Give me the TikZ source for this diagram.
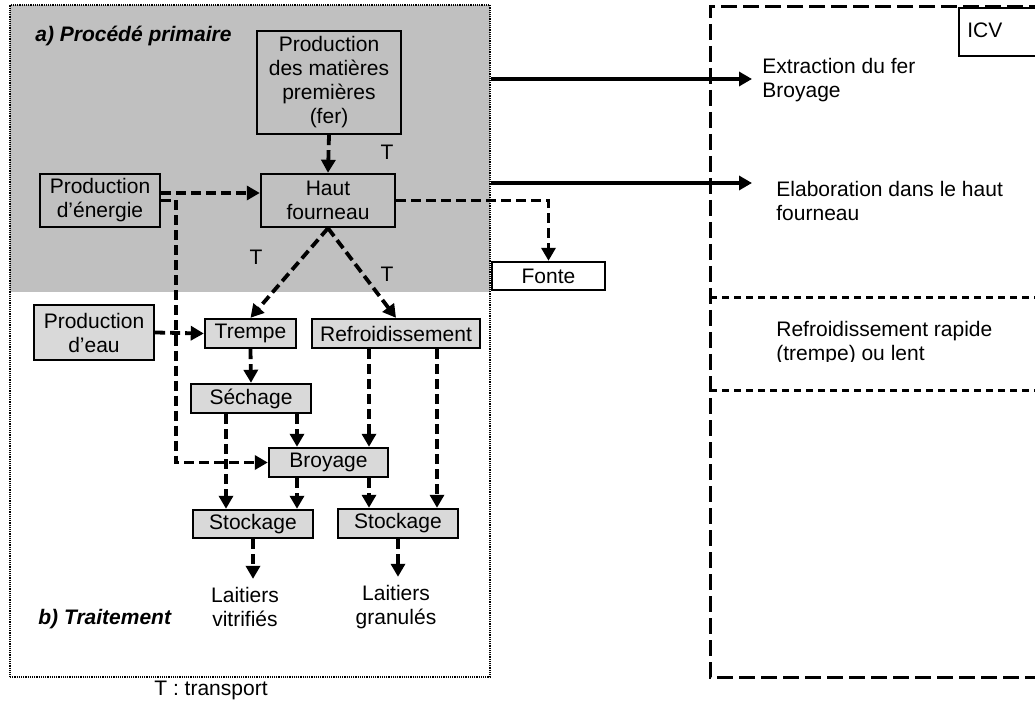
\documentclass[tikz,border=0pt]{standalone}
\usepackage{fontspec}
\setmainfont{Liberation Sans}
\usetikzlibrary{arrows.meta,calc}
\definecolor{bggray}{RGB}{192,192,192}
\definecolor{boxgray}{RGB}{217,217,217}
\begin{document}
\begin{tikzpicture}[x=0.5pt,y=-0.5pt,
  every node/.style={font=\fontsize{10.5pt}{12pt}\selectfont, inner sep=0pt},
  box/.style={draw, line width=1.2pt, align=center},
  upbox/.style={box, fill=bggray},
  lowbox/.style={box, fill=boxgray},
  flow/.style={line width=1.9pt, dash pattern=on 5pt off 2.5pt, -{Triangle[length=6.5pt,width=7pt]}},
  flowline/.style={line width=1.9pt, dash pattern=on 5pt off 2.5pt},
  solidarrow/.style={line width=1.8pt, -{Triangle[length=6.5pt,width=7pt]}},
  bigdash/.style={line width=1.5pt, dash pattern=on 8pt off 3pt},
  smalldash/.style={line width=1.5pt, dash pattern=on 3.5pt off 2.5pt},
  lbl/.style={align=center},
  sect/.style={font=\fontsize{10.5pt}{12pt}\selectfont\bfseries\itshape}
]
\useasboundingbox (0,0) rectangle (1035,701);
% primary process background
\fill[bggray] (10,5) rectangle (490,292);
\node[draw, line width=1pt, dash pattern=on 0.6pt off 0.5pt, minimum width=240pt, minimum height=336pt] (outer) at (250,341) {};

\node[sect, anchor=west] (secA) at (35,36) {a) Procédé primaire};
\node[sect, anchor=west] (secB) at (38,619) {b) Traitement};

% upper boxes
\node[upbox, minimum width=72pt, minimum height=51.5pt] (mp) at (329,82.5) {Production\\des matières\\premières\\(fer)};
\node[upbox, minimum width=67pt, minimum height=26.5pt] (hf) at (328,200.5) {Haut\\fourneau};
\node[upbox, minimum width=60pt, minimum height=26.5pt] (en) at (100,200.5) {Production\\d’énergie};
\node[box, fill=white, minimum width=56.5pt, minimum height=14pt] (fonte) at (548.5,276) {Fonte};

% lower boxes
\node[lowbox, minimum width=60pt, minimum height=27.5pt] (eau) at (94,332.5) {Production\\d’eau};
\node[lowbox, minimum width=45.5pt, minimum height=14.5pt] (trempe) at (250.5,333.5) {Trempe};
\node[lowbox, minimum width=84pt, minimum height=14.5pt] (refr) at (396,333.5) {Refroidissement};
\node[lowbox, minimum width=60pt, minimum height=14.5pt] (sech) at (251,398.5) {Séchage};
\node[lowbox, minimum width=59.5pt, minimum height=14.5pt] (broy) at (328.5,462.5) {Broyage};
\node[lowbox, minimum width=60pt, minimum height=14pt] (stk1) at (253,524) {Stockage};
\node[lowbox, minimum width=60pt, minimum height=14.5pt] (stk2) at (398,523.5) {Stockage};
\node[lbl] (lv) at (245,607) {Laitiers\\vitrifiés};
\node[lbl] (lg) at (396,607) {Laitiers\\granulés};

% T labels
\node (t1) at (387,152) {T};
\node (t2) at (256,257) {T};
\node (t3) at (387,274) {T};
\node (tt) at (211,690) {T : transport};

% flows upper
\draw[flow] (mp.south) -- (hf.north);
\draw[flow] ([yshift=3.75pt]en.east) -- ([yshift=3.75pt]en.east -| hf.west);
\draw[flowline] (en.east) -- ++(15,0) coordinate (enc);
\draw[flow] (enc) |- (broy.west);
\draw[flow] (hf.east) -| (fonte.north);
\draw[flow] (hf.south) -- (trempe.north);
\draw[flow] (hf.south) -- (refr.north);

% flows lower
\draw[flow] (eau.east) -- (trempe.west);
\draw[flow] (trempe.south) -- (sech.north);
\draw[flow] ([xshift=23pt]sech.south) -- ([xshift=23pt]sech.south |- broy.north);
\draw[flow] ([xshift=-12.5pt]sech.south) -- ([xshift=-12.5pt]sech.south |- stk1.north);
\draw[flow] ([xshift=-13.5pt]refr.south) -- ([xshift=-13.5pt]refr.south |- broy.north);
\draw[flow] ([xshift=20.5pt]refr.south) -- ([xshift=20.5pt]refr.south |- stk2.north);
\draw[flow] ([xshift=-15.75pt]broy.south) -- ([xshift=-15.75pt]broy.south |- stk1.north);
\draw[flow] ([xshift=20.25pt]broy.south) -- ([xshift=20.25pt]broy.south |- stk2.north);
\draw[flow] (stk1.south) -- ([yshift=4pt]stk1.south |- lv.north);
\draw[flow] (stk2.south) -- ([yshift=4pt]stk2.south |- lg.north);

% right dashed frame
\draw[bigdash] (1045,7) -- (710,7) -- (710,677) -- (1045,677);
\draw[smalldash] (710,298) -- (1045,298);
\draw[smalldash] (710,390) -- (1045,390);
\node[draw, line width=1.2pt, minimum width=50pt, minimum height=24pt, anchor=north west] (icvbox) at (958,7) {};
\node[anchor=west] (icv) at (967,30) {ICV};

% right texts
\node[anchor=west, align=left] (ext) at (762,80) {Extraction du fer\\Broyage};
\node[anchor=west, align=left] (elab) at (776,201) {Elaboration dans le haut\\fourneau};
\begin{scope}
\clip (700,300) rectangle (1035,361);
\node[anchor=west, align=left] (refrtxt) at (776,343) {Refroidissement rapide\\(trempe) ou lent};
\end{scope}

% solid arrows
\coordinate (a1) at (752,79);
\coordinate (a2) at (752,183);
\draw[solidarrow] (a1 -| outer.east) -- (a1);
\draw[solidarrow] (a2 -| outer.east) -- (a2);
\end{tikzpicture}
\end{document}
